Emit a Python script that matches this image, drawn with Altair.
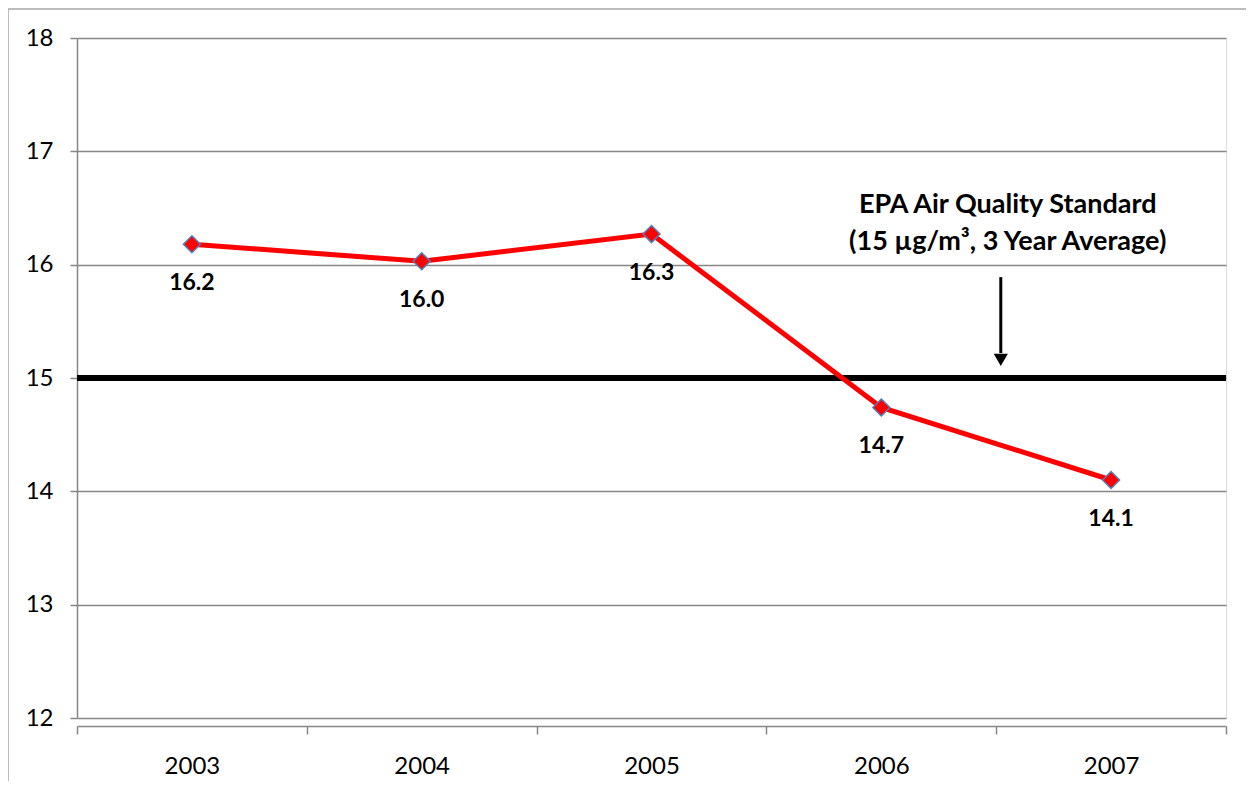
import altair as alt
import pandas as pd

# ---- data ----
years = [2003, 2004, 2005, 2006, 2007]
pm25 = [16.18, 16.03, 16.27, 14.74, 14.10]
point_labels = ["16.2", "16.0", "16.3", "14.7", "14.1"]
category_edges = [2002.5, 2003.5, 2004.5, 2005.5, 2006.5, 2007.5]
y_ticks = [12, 13, 14, 15, 16, 17, 18]
standard_value = [15]
note_lines = ["EPA Air Quality Standard", "(15 µg/m³, 3 Year Average)"]
note_x = [2006.55, 2006.55]
note_y = [16.53, 16.20]
arrow_x = [2006.52]
arrow_top = [15.89]
arrow_bottom = [15.22]
arrow_head = [15.16]

FONT = "Lato"
GRID = "#868686"

df = pd.DataFrame({"year": years, "pm": pm25, "label": point_labels})
std_df = pd.DataFrame({"v": standard_value})
note_df = pd.DataFrame({"x": note_x, "y": note_y, "t": note_lines})
arrow_df = pd.DataFrame({"x": arrow_x, "y": arrow_top, "y2": arrow_bottom, "h": arrow_head})

xscale = alt.Scale(domain=[category_edges[0], category_edges[-1]], nice=False, zero=False)
yscale = alt.Scale(domain=[y_ticks[0], y_ticks[-1]], nice=False, zero=False)

x_axis = alt.Axis(
    values=category_edges + years,
    labelExpr="datum.value % 1 == 0 ? format(datum.value, 'd') : ''",
    tickOpacity={"condition": {"test": "datum.value % 1 == 0", "value": 0}, "value": 1},
    labelOverlap=False,
    grid=False,
    offset=8,
    tickSize=8,
    tickWidth=1.5,
    tickColor=GRID,
    domainColor=GRID,
    domainWidth=1.5,
    labelFont=FONT,
    labelFontSize=24,
    labelColor="black",
    labelPadding=20,
    title=None,
)
y_axis = alt.Axis(
    values=y_ticks,
    format="d",
    grid=True,
    gridColor=GRID,
    gridWidth=1.5,
    tickSize=7,
    tickWidth=1.5,
    tickColor=GRID,
    domainColor=GRID,
    domainWidth=1.5,
    labelFont=FONT,
    labelFontSize=24,
    labelColor="black",
    labelPadding=17,
    title=None,
)

base = alt.Chart(df).encode(
    x=alt.X("year:Q", scale=xscale, axis=x_axis),
    y=alt.Y("pm:Q", scale=yscale, axis=y_axis),
)

std_line = alt.Chart(std_df).mark_rule(color="black", strokeWidth=6).encode(
    y=alt.Y("v:Q", scale=yscale)
)

line = base.mark_line(color="#FF0000", strokeWidth=5)
points = base.mark_point(
    shape="diamond", filled=True, fill="#FF0000", stroke="#4F81BD",
    strokeWidth=1.5, size=290, opacity=1
)
labels = base.mark_text(
    font=FONT, fontSize=23, fontWeight="bold", dy=39, baseline="middle", color="black"
).encode(text="label:N")

note = alt.Chart(note_df).mark_text(
    font=FONT, fontSize=27, fontWeight="bold", baseline="middle", align="center", color="black"
).encode(
    x=alt.X("x:Q", scale=xscale),
    y=alt.Y("y:Q", scale=yscale),
    text="t:N",
)

arrow_shaft = alt.Chart(arrow_df).mark_rule(color="black", strokeWidth=3).encode(
    x=alt.X("x:Q", scale=xscale),
    y=alt.Y("y:Q", scale=yscale),
    y2="y2:Q",
)
arrow_tip = alt.Chart(arrow_df).mark_point(
    shape="triangle-down", filled=True, color="black", size=200, opacity=1
).encode(
    x=alt.X("x:Q", scale=xscale),
    y=alt.Y("h:Q", scale=yscale),
)

# outer chart frame (decorative)
frame_left = alt.Chart(std_df).mark_rule(color="#A6A6A6", strokeWidth=1.5, clip=False).encode(
    x=alt.value(-69), y=alt.value(-29), y2=alt.value(760)
)
frame_top = alt.Chart(std_df).mark_rule(color="#A6A6A6", strokeWidth=1.5, clip=False).encode(
    x=alt.value(-69), x2=alt.value(1200), y=alt.value(-29)
)

chart = alt.layer(
    frame_left, frame_top, std_line, line, points, labels, note, arrow_shaft, arrow_tip
).properties(
    width=1149,
    height=680,
    padding={"left": 69, "top": 30, "right": 20, "bottom": 63},
    autosize=alt.AutoSizeParams(type="none"),
).configure_view(stroke=None).configure(background="white")

chart.save("out.html", embed_options={"renderer": "svg", "actions": False})
